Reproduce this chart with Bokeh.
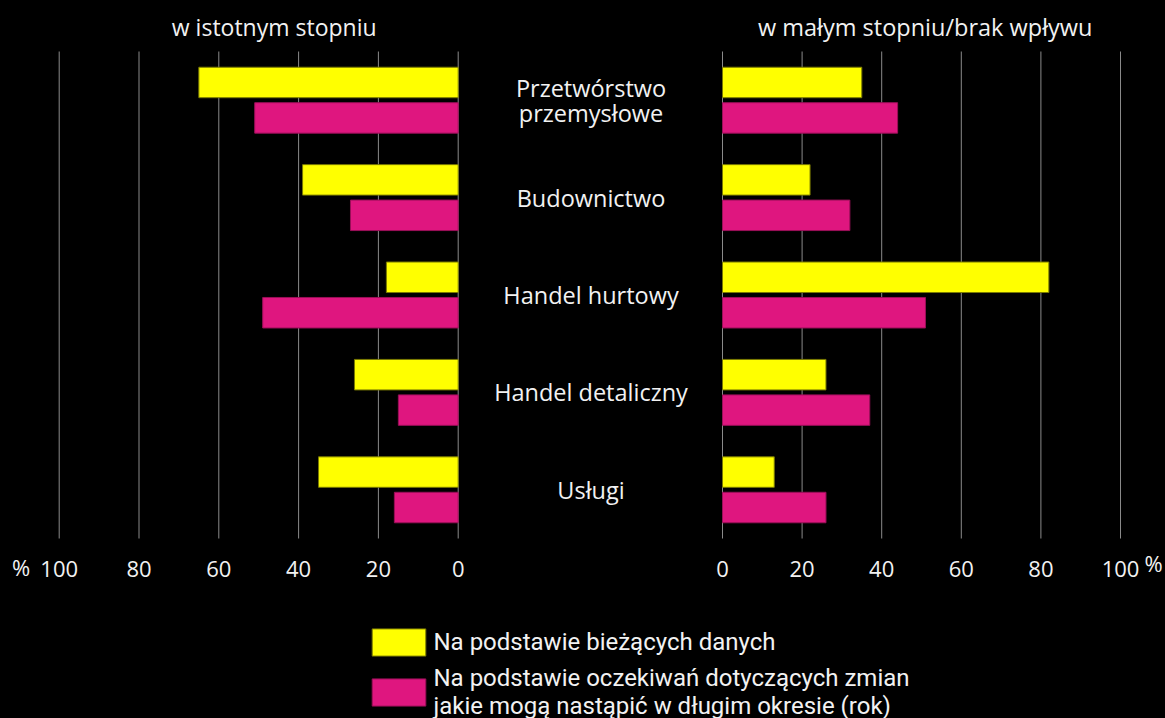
from bokeh.plotting import figure
from bokeh.models import (Range1d, Legend, LegendItem, ColumnDataSource,
                          GlobalInlineStyleSheet)
from bokeh.transform import dodge
from bokeh.core.properties import value
from bokeh.embed import file_html
from bokeh.resources import INLINE

# ---------------- data ----------------
categories = ["Przetwórstwo przemysłowe", "Budownictwo", "Handel hurtowy",
              "Handel detaliczny", "Usługi"]
category_labels = ["Przetwórstwo\nprzemysłowe", "Budownictwo", "Handel hurtowy",
                   "Handel detaliczny", "Usługi"]
# left panel: "w istotnym stopniu"
significant_current = [65, 39, 18, 26, 35]
significant_expected = [51, 27, 49, 15, 16]
# right panel: "w małym stopniu/brak wpływu"
minor_current = [35, 22, 82, 26, 13]
minor_expected = [44, 32, 51, 37, 26]
tick_values = [0, 20, 40, 60, 80, 100]
series_names = ["Na podstawie bieżących danych",
                "Na podstawie oczekiwań dotyczących zmian\njakie mogą nastąpić w długim okresie (rok)"]
panel_titles = ["w istotnym stopniu", "w małym stopniu/brak wpływu"]

# ---------------- layout ----------------
W, H = 1165, 718
FONT = "Open Sans"
TXT = "#f2f2f2"
YELLOW, MAGENTA = "#FFFF00", "#DF167F"
GRID = "#8a8a8a"

# horizontal mapping (canvas px)
L0, LS = 457.7, 3.99    # canvas px of left-panel zero, px per unit (reversed)
R0, RS = 722.0, 3.98    # canvas px of right-panel zero, px per unit
left_range = Range1d(L0 / LS, (L0 - W) / LS)
right_range = Range1d(-R0 / RS, (W - R0) / RS)

# vertical mapping: one unit per category band, first band starts at 51px
BAND, TOP0 = 97.4, 51.0


def u_at(py):
    return (py - TOP0) / BAND - 0.5


y_range = Range1d(u_at(H), u_at(0))


def lx(px):
    return (L0 - px) / LS


def rx(px):
    return (px - R0) / RS


p = figure(width=W, height=H, x_range=left_range, y_range=y_range,
           output_backend="svg", toolbar_location=None,
           min_border=0, x_axis_location=None, y_axis_location=None,
           background_fill_color="black", border_fill_color="black",
           outline_line_color=None)
p.extra_x_ranges = {"right": right_range}
p.xgrid.visible = False
p.ygrid.visible = False
p.styles = {"background-color": "black"}
p.stylesheets = [GlobalInlineStyleSheet(css="html, body { background: #000000; }")]

pos = list(range(len(categories)))
src = ColumnDataSource(dict(pos=pos,
                            sc=significant_current, se=significant_expected,
                            mc=minor_current, me=minor_expected))

# grid lines from tick values, spanning all category bands
g0, g1 = pos[0] - 0.5, pos[-1] + 0.5
p.segment(x0=tick_values, x1=tick_values, y0=g0, y1=g1,
          line_color=GRID, line_width=1)
p.segment(x0=tick_values, x1=tick_values, y0=g0, y1=g1,
          line_color=GRID, line_width=1, x_range_name="right")

BH, OFF = 0.313, 0.182
Y_LINE, M_LINE = "#7a7a00", "#9a0f58"
r_y = p.hbar(y=dodge("pos", -OFF), left=0, right="sc", height=BH,
             fill_color=YELLOW, line_color=Y_LINE, line_width=1, source=src)
r_m = p.hbar(y=dodge("pos", OFF), left=0, right="se", height=BH,
             fill_color=MAGENTA, line_color=M_LINE, line_width=1, source=src)
p.hbar(y=dodge("pos", -OFF), left=0, right="mc", height=BH,
       fill_color=YELLOW, line_color=Y_LINE, line_width=1, source=src,
       x_range_name="right")
p.hbar(y=dodge("pos", OFF), left=0, right="me", height=BH,
       fill_color=MAGENTA, line_color=M_LINE, line_width=1, source=src,
       x_range_name="right")

common = dict(text_color=TXT, text_font=value(FONT))

# tick labels of both panels
TICK_Y = u_at(568)
tick_txt = [str(t) for t in tick_values]
p.text(x=tick_values, y=[TICK_Y] * len(tick_values), text=tick_txt,
       text_align="center", text_baseline="middle", text_font_size="22px", **common)
p.text(x=tick_values, y=[TICK_Y] * len(tick_values), text=tick_txt,
       text_align="center", text_baseline="middle", text_font_size="22px",
       x_range_name="right", **common)
# percent signs
p.text(x=[lx(20.7)], y=[u_at(566)], text=["%"], text_align="center",
       text_baseline="middle", text_font_size="22px", **common)
p.text(x=[rx(1153)], y=[u_at(562)], text=["%"], text_align="center",
       text_baseline="middle", text_font_size="22px", x_range_name="right", **common)

# category labels in the middle
p.text(x=[lx(590.5)] * len(categories), y=pos, text=category_labels,
       text_align="center", text_baseline="middle", text_font_size="23.5px",
       text_line_height=0.77, **common)

# panel titles
p.text(x=[lx(273.7)], y=[u_at(26)], text=[panel_titles[0]],
       text_align="center", text_baseline="middle", text_font_size="23px", **common)
p.text(x=[rx(924.7)], y=[u_at(26)], text=[panel_titles[1]],
       text_align="center", text_baseline="middle", text_font_size="23.5px",
       x_range_name="right", **common)

legend = Legend(items=[LegendItem(label=series_names[0], renderers=[r_y]),
                       LegendItem(label=series_names[1], renderers=[r_m])],
                location=(364.5, -1.5), orientation="vertical",
                glyph_width=67, glyph_height=34, label_standoff=2, spacing=5,
                padding=0, margin=0, border_line_color=None,
                background_fill_alpha=0,
                label_text_font="Roboto", label_text_font_size="24px",
                label_text_color=TXT, label_text_line_height=1.0)
p.add_layout(legend)

open("out.html", "w").write(file_html(p, INLINE))
